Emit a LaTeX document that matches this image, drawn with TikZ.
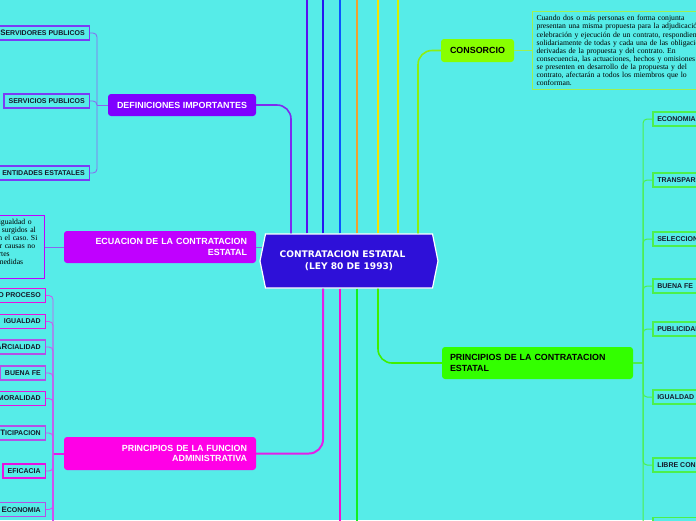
\documentclass[tikz,border=0pt]{standalone}
\usepackage{fontspec}
\usepackage{tikz}
\usetikzlibrary{positioning,calc,shapes.symbols}
\setmainfont{Liberation Sans}
\newfontfamily\hubfont{DejaVu Sans}
\newfontfamily\notefont{Liberation Serif}
\definecolor{MapCyan}{HTML}{56ECE8}
\definecolor{MapHub}{HTML}{2E10D8}
\definecolor{MapInk}{HTML}{161A2A}
\definecolor{MapViolet}{HTML}{7F00FF}
\definecolor{MapPurple}{HTML}{C000FF}
\definecolor{MapMagenta}{HTML}{FF00E6}
\definecolor{MapLime}{HTML}{88FF00}
\definecolor{MapGreen}{HTML}{33FF00}
\definecolor{MapLav}{HTML}{8A64F0}
\definecolor{MapLeafV}{HTML}{7B3CF5}
\definecolor{MapLeafM}{HTML}{E810E0}
\definecolor{MapLeafP}{HTML}{B450E6}
\definecolor{MapFunTw}{HTML}{D050F0}
\definecolor{MapLeafG}{HTML}{4CF04C}
\definecolor{MapNoteG}{HTML}{9EF050}
\definecolor{MapLineA}{HTML}{7D2BF0}
\definecolor{MapLineB}{HTML}{5A10F0}
\definecolor{MapLineC}{HTML}{2418F0}
\definecolor{MapLineD}{HTML}{0A55FF}
\definecolor{MapLineE}{HTML}{F0A030}
\definecolor{MapLineF}{HTML}{F5E400}
\definecolor{MapLineG}{HTML}{D4F000}
\definecolor{MapLineH}{HTML}{8CEE10}
\definecolor{MapLineI}{HTML}{E41EE8}
\definecolor{MapLineJ}{HTML}{F410D0}
\definecolor{MapLineK}{HTML}{12F020}
\definecolor{MapLineL}{HTML}{40F000}
\newcommand{\capx}[1]{{\fontsize{7.9}{8}\selectfont #1}}
\tikzset{
  mainbox/.style={rounded corners=3pt,inner sep=0pt,font=\fontsize{8.9}{10.6}\selectfont\bfseries,text=white},
  leafbox/.style={draw,line width=1.5pt,fill=MapCyan,inner xsep=4.5pt,inner ysep=0pt,minimum height=14pt,font=\fontsize{7}{8}\selectfont\bfseries,text=MapInk},
  notebox/.style={draw,line width=1pt,fill=MapCyan,inner sep=4pt,align=left,font=\notefont\fontsize{7.7}{8.05}\selectfont\frenchspacing,text=black},
  branch/.style={line width=2pt,rounded corners=14pt},
  twig/.style={line width=0.8pt,rounded corners=4pt}
}

\begin{document}
\begin{tikzpicture}[x=1pt,y=-1pt]
\path[use as bounding box,fill=MapCyan] (0,0) rectangle (696,520);

% centro
\node[signal,signal to=west and east,signal pointer angle=157,draw=white,line width=1.2pt,fill=MapHub,
  minimum width=178pt,minimum height=54pt,inner sep=0pt,text=white,align=center,
  font=\hubfont\bfseries\fontsize{9.1}{12}\selectfont] (hub) at (349,261)
  {CONTRATACION ESTATAL\hspace*{13pt}\\(LEY 80 DE 1993)};

% ramas principales
\node[mainbox,fill=MapViolet,minimum width=148pt,minimum height=22pt] (defs) at (182,105) {DEFINICIONES IMPORTANTES};
\node[mainbox,fill=MapPurple,minimum width=192pt,minimum height=32pt,text width=174pt,align=right] (ecua) at (160,247) {ECUACION DE LA CONTRATACION\\ESTATAL};
\node[mainbox,fill=MapMagenta,minimum width=192pt,minimum height=33pt,text width=174pt,align=right] (func) at (160,453.5) {PRINCIPIOS DE LA FUNCION\\ADMINISTRATIVA};
\node[mainbox,fill=MapLime,text=black,minimum width=73pt,minimum height=23pt] (cons) at (477.5,50.5) {CONSORCIO};
\node[mainbox,fill=MapGreen,text=black,minimum width=191pt,minimum height=32pt,text width=175pt,align=left] (pcon) at (537.5,363) {PRINCIPIOS DE LA CONTRATACION\\ESTATAL};

% notas
\node[notebox,draw=MapNoteG,anchor=north west,text width=200pt] (cnote) at (532,11)
  {Cuando dos o más personas en forma conjunta\\
   presentan una misma propuesta para la adjudicación,\\
   celebración y ejecución de un contrato, respondiendo\\
   solidariamente de todas y cada una de las obligaciones\\
   derivadas de la propuesta y del contrato. En\\
   consecuencia, las actuaciones, hechos y omisiones que\\
   se presenten en desarrollo de la propuesta y del\\
   contrato, afectarán a todos los miembros que lo\\
   conforman.};
\node[notebox,draw=MapPurple,anchor=east,text width=176pt] (enote) at (45,247)
  {\mbox{En los contratos estatales se mantendrá la igualdad o}\\
   \mbox{equivalencia entre derechos y obligaciones surgidos al}\\
   \mbox{momento de proponer o de contratar, según el caso. Si}\\
   \mbox{dicha igualdad o equivalencia se rompe por causas no}\\
   \mbox{imputables a quien resulte afectado, las partes}\\
   \mbox{adoptarán en el menor tiempo posible las medidas}\\
   \mbox{necesarias para su restablecimiento.}};

% hojas de definiciones
\node[leafbox,draw=MapLeafV,anchor=east] (srvd) at (90,33) {\capx{S}ERVIDORES PUBLICOS};
\node[leafbox,draw=MapLeafV,anchor=east] (srvc) at (90,101) {SERVICIOS PUBLICOS};
\node[leafbox,draw=MapLeafV,anchor=east] (enti) at (90,173) {ENTIDADES ESTATALES};

% hojas de la funcion administrativa
\node[leafbox,draw=MapLeafM,anchor=east] (proc) at (46,295.5) {DEBIDO PROCESO};
\node[leafbox,draw=MapLeafM,anchor=east] (igua) at (46,321.5) {IGUALDAD};
\node[leafbox,draw=MapLeafP,anchor=east] (impa) at (46,347) {IMP\capx{AR}CIALIDAD};
\node[leafbox,draw=MapLeafP,anchor=east] (buen) at (46,373) {BUENA FE};
\node[leafbox,draw=MapLeafM,anchor=east] (mora) at (46,398.5) {MORALIDAD};
\node[leafbox,draw=MapLeafP,anchor=east] (part) at (46,433) {PA\capx{RT}ICIPACION};
\node[leafbox,draw=MapLeafM,anchor=east] (efic) at (46,471) {EFICACIA};
\node[leafbox,draw=MapLeafP,anchor=east] (econ) at (46,509.5) {\capx{E}CONOMIA};

% hojas de la contratacion
\node[leafbox,draw=MapLeafG,anchor=west] (reco) at (652,119) {ECONOMIA};
\node[leafbox,draw=MapLeafG,anchor=west] (rtra) at (652,180) {TRANSPARENCIA};
\node[leafbox,draw=MapLeafG,anchor=west] (rsel) at (652,239) {SELECCION OBJETIVA};
\node[leafbox,draw=MapLeafG,anchor=west] (rbue) at (652,286) {BUENA FE};
\node[leafbox,draw=MapLeafG,anchor=west] (rpub) at (652,329) {PUBLICIDAD};
\node[leafbox,draw=MapLeafG,anchor=west] (rigu) at (652,397) {IGUALDAD};
\node[leafbox,draw=MapLeafG,anchor=west] (rlib) at (652,465) {LIBRE CONCURRENCIA};
\node[leafbox,draw=MapLeafG,anchor=west] (rres) at (652,524.5) {RESPONSABILIDAD};

% extremos libres de las ramas
\coordinate (t1) at (291,-3);
\coordinate (t2) at (307,-3);
\coordinate (t3) at (323,-3);
\coordinate (t4) at (340,-3);
\coordinate (t5) at (357,-3);
\coordinate (t6) at (378,-3);
\coordinate (t7) at (398,-3);
\coordinate (t8) at (418,-3);
\coordinate (b2) at (340,523);
\coordinate (b3) at (357,523);

\draw[branch,line width=1.6pt,draw=MapLineA] (t1 |- hub.north) |- (defs.east);
\draw[branch,draw=MapLineB] (t2 |- hub.north) -- (t2);
\draw[branch,draw=MapLineC] (t3 |- hub.north) -- (t3);
\draw[branch,draw=MapLineD] (t4 |- hub.north) -- (t4);
\draw[branch,draw=MapLineE] (t5 |- hub.north) -- (t5);
\draw[branch,draw=MapLineF] (t6 |- hub.north) -- (t6);
\draw[branch,draw=MapLineG] (t7 |- hub.north) -- (t7);
\draw[branch,line width=1.6pt,draw=MapLineH] (t8 |- hub.north) |- (cons.west);
\draw[branch,draw=MapLineI] (t3 |- hub.south) |- (func.east);
\draw[branch,draw=MapLineJ] (b2 |- hub.south) -- (b2);
\draw[branch,draw=MapLineK] (b3 |- hub.south) -- (b3);
\draw[branch,line width=1.6pt,draw=MapLineL] (t6 |- hub.south) |- (pcon.west);
\draw[twig,draw=MapLav] (ecua.east) -- ($(hub.west |- ecua.east)+(2.5,0)$);

% conectores de las hojas
\draw[twig,draw=MapNoteG] (cons.east) -- (cnote.west |- cons.east);
\draw[twig,draw=MapLav] (ecua.west) -- (enote.east);

\coordinate (dj) at (97,105);
\draw[twig,draw=MapLav] (defs.west) -- (dj);
\foreach \n in {srvd,srvc,enti}
  \draw[twig,draw=MapLav] (dj) |- (\n.east);

\coordinate (fj) at (53,453.5);
\coordinate (fend) at (53,523);
\draw[line width=2pt,draw=MapLineI] (func.west) -- (fj);
\draw[line width=1.2pt,draw=MapFunTw] (fj) -- (fend);
\foreach \n in {proc,igua,impa,buen,mora,part,efic,econ}
  \draw[twig,draw=MapFunTw] (fj) |- (\n.east);

\coordinate (pj) at (643,363);
\draw[line width=2pt,draw=MapLeafG] (pcon.east) -- (pj);
\foreach \n in {reco,rtra,rsel,rbue,rpub,rigu,rlib,rres}
  \draw[twig,line width=1pt,draw=MapLeafG] (pj) |- (\n.west);
\end{tikzpicture}
\end{document}
